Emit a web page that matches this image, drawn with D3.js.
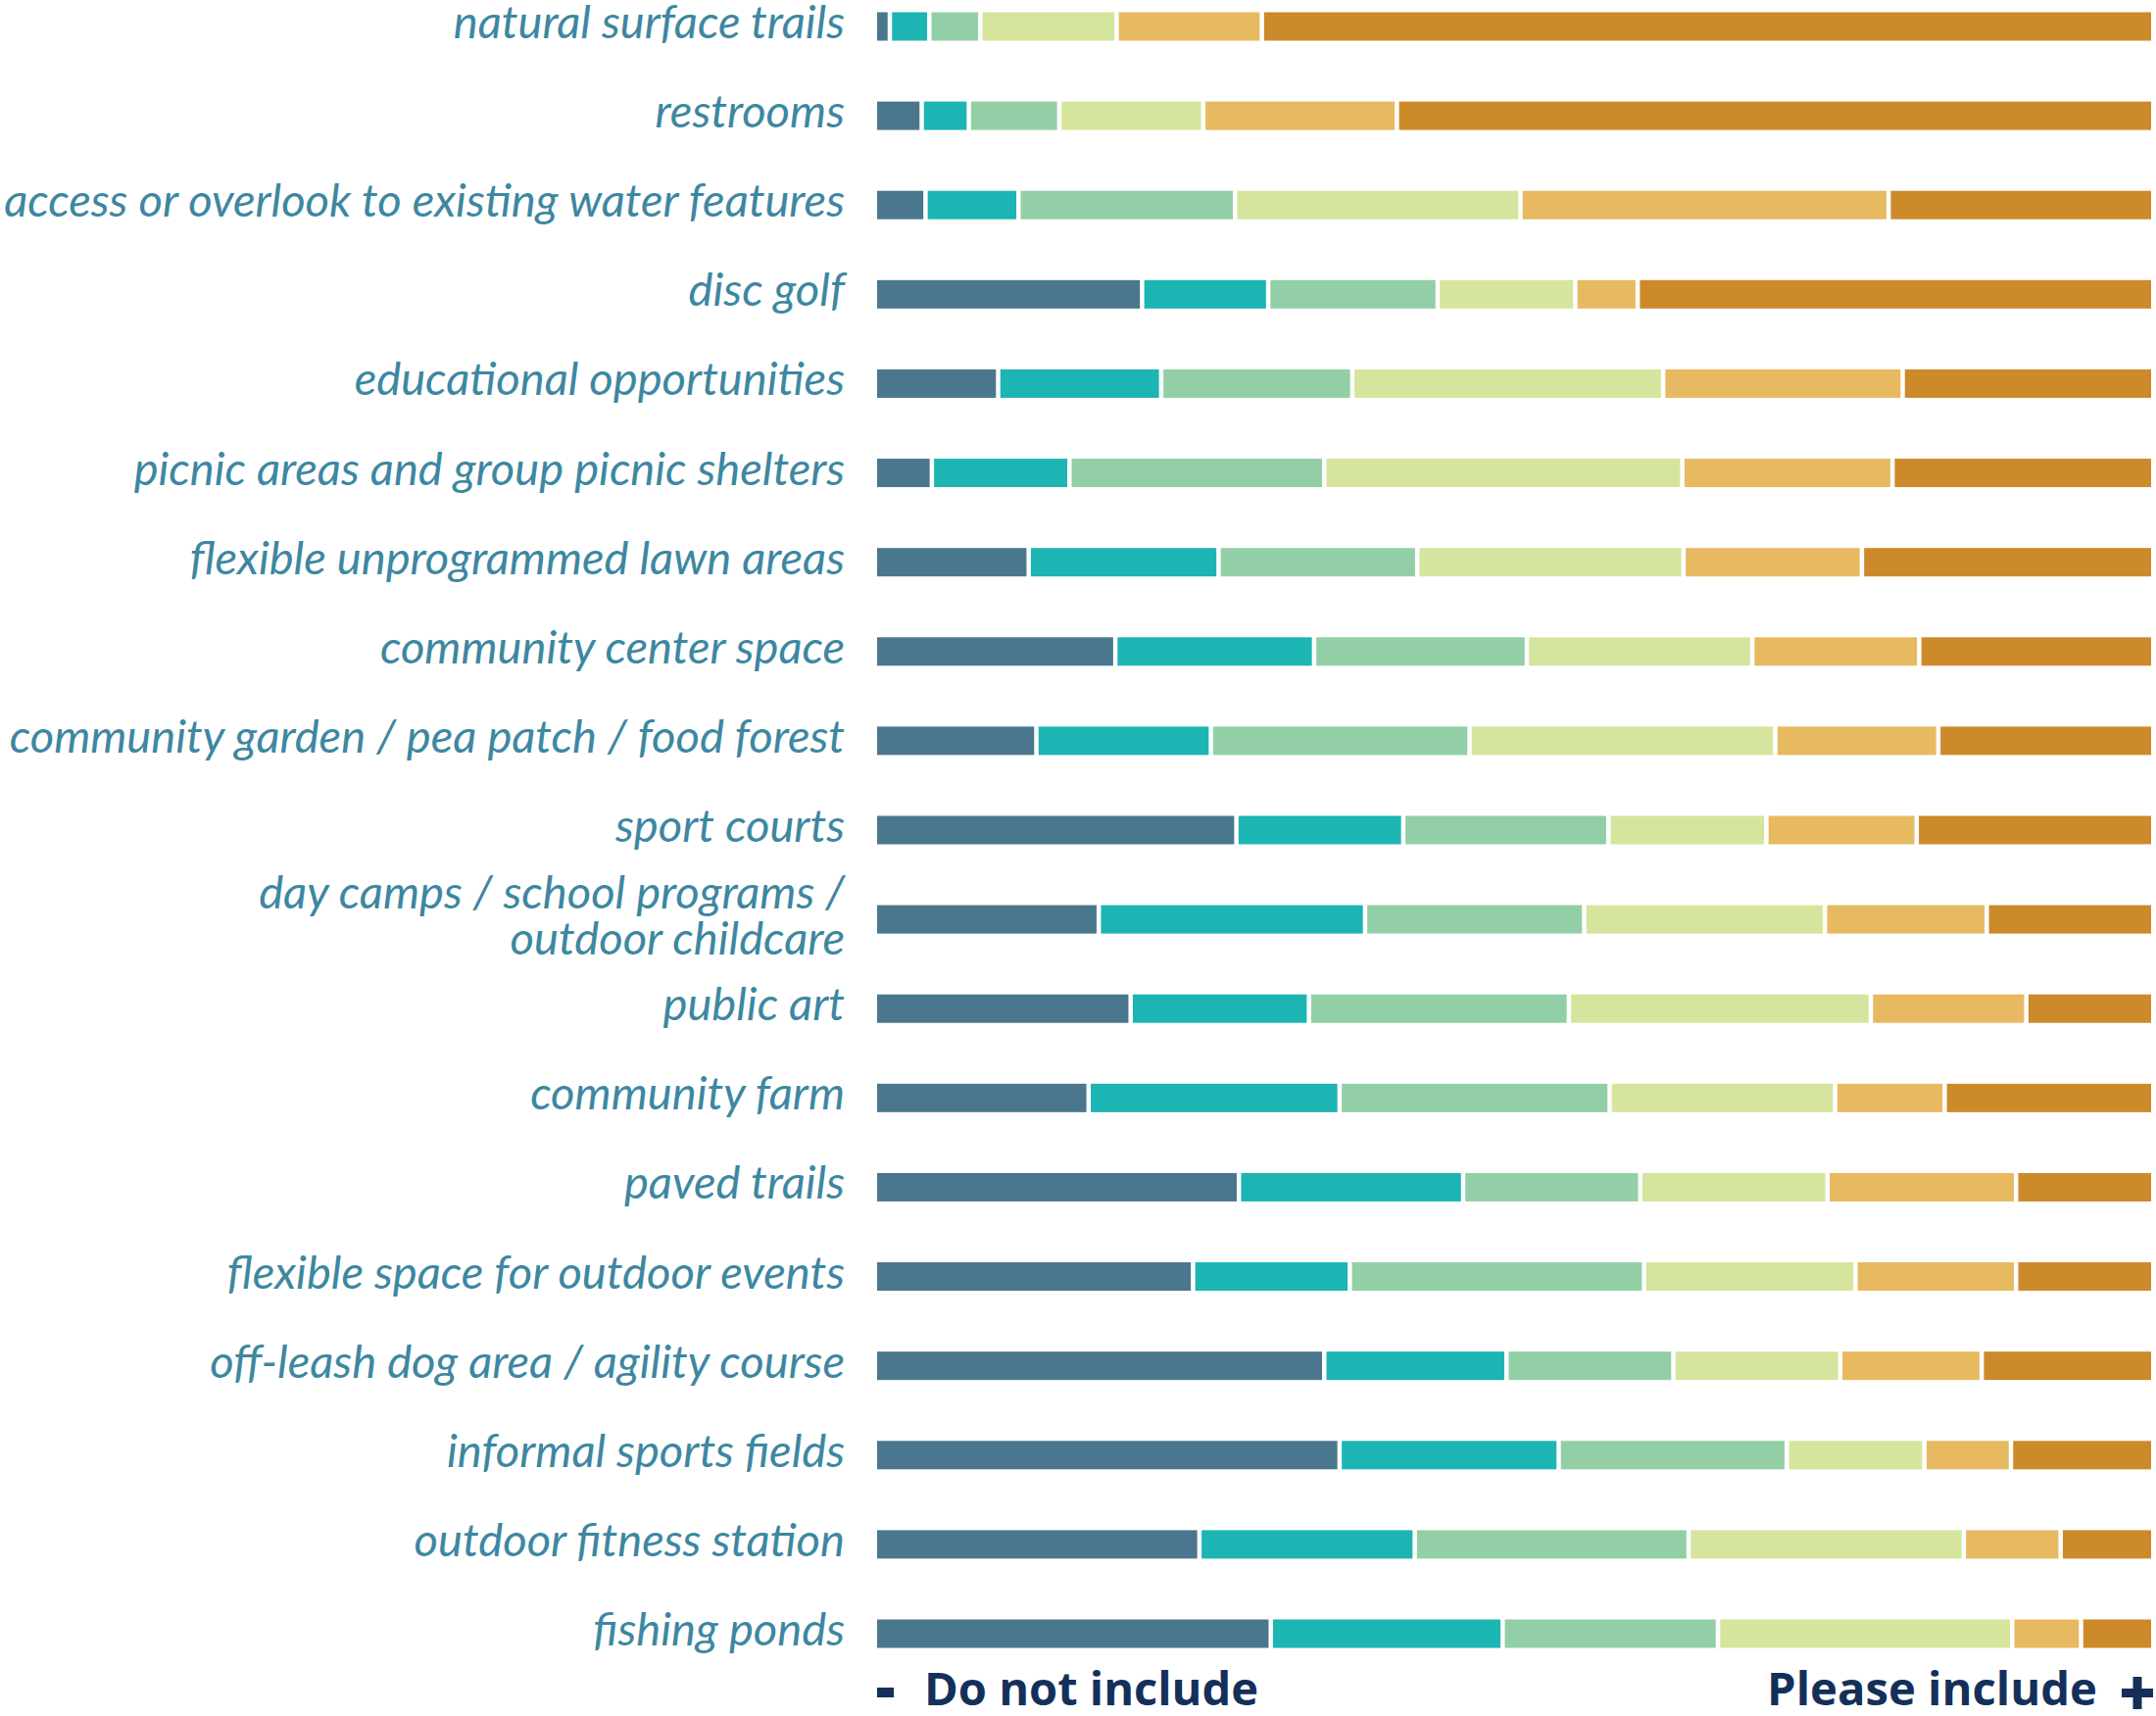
<!DOCTYPE html>
<html>
<head>
<meta charset="utf-8">
<script src="https://cdn.jsdelivr.net/npm/d3@7"></script>
<style>
  body { margin: 0; background: #fff; }
  .viz { width: 2200px; height: 1751px; }
</style>
</head>
<body>
<div class="viz"></div>
<script>
// rows, top to bottom
var categories = [
  "natural surface trails",
  "restrooms",
  "access or overlook to existing water features",
  "disc golf",
  "educational opportunities",
  "picnic areas and group picnic shelters",
  "flexible unprogrammed lawn areas",
  "community center space",
  "community garden / pea patch / food forest",
  "sport courts",
  "day camps / school programs / outdoor childcare",
  "public art",
  "community farm",
  "paved trails",
  "flexible space for outdoor events",
  "off-leash dog area / agility course",
  "informal sports fields",
  "outdoor fitness station",
  "fishing ponds"
];

// share of answers (%) on the scale from "do not include" (1) to "please include" (6)
var level1 = [1.0, 3.5, 3.8, 20.8, 9.5, 4.3, 11.9, 18.7, 12.5, 28.2, 17.4, 19.9, 16.6, 28.4, 24.8, 35.1, 36.3, 25.3, 30.9];
var level2 = [3.1, 3.7, 7.3, 9.9, 12.8, 10.8, 14.9, 15.6, 13.7, 13.1, 20.9, 14.0, 19.7, 17.6, 12.3, 14.3, 17.2, 16.9, 18.2];
var level3 = [4.0, 7.1, 17.0, 13.3, 15.0, 20.0, 15.6, 16.7, 20.3, 16.1, 17.2, 20.4, 21.2, 13.9, 23.1, 13.1, 17.9, 21.5, 16.9];
var level4 = [10.7, 11.3, 22.4, 10.8, 24.4, 28.1, 20.9, 17.7, 24.0, 12.4, 18.9, 23.7, 17.7, 14.7, 16.6, 13.1, 10.8, 21.6, 23.1];
var level5 = [11.4, 15.2, 28.9, 4.9, 18.8, 16.5, 14.0, 13.1, 12.8, 11.8, 12.7, 12.2, 8.6, 14.8, 12.6, 11.1, 6.8, 7.6, 5.4];
var level6 = [69.8, 59.2, 20.6, 40.3, 19.5, 20.3, 22.7, 18.2, 16.7, 18.4, 12.9, 9.8, 16.2, 10.6, 10.6, 13.3, 11.0, 7.1, 5.5];

var levels = ["level1", "level2", "level3", "level4", "level5", "level6"];
var colors = ["#4a778d", "#1db4b4", "#93cfa6", "#d5e59d", "#e7b961", "#cd8a2b"];

var wrapped = {
  "day camps / school programs / outdoor childcare": ["day camps / school programs /", "outdoor childcare"]
};

var table = categories.map(function(c, i) {
  return {cat: c, level1: level1[i], level2: level2[i], level3: level3[i],
          level4: level4[i], level5: level5[i], level6: level6[i]};
});

var svg = d3.select(".viz").append("svg")
  .attr("width", 2200)
  .attr("height", 1751);

var x = d3.scaleLinear().domain([0, 1]).range([895, 2195]);
var y = d3.scalePoint().domain(categories).range([27, 1667]);
var color = d3.scaleOrdinal().domain(levels).range(colors);

var barH = 29, gap = 4.5;

var series = d3.stack().keys(levels).offset(d3.stackOffsetExpand)(table);

svg.append("g").selectAll("g")
  .data(series)
  .join("g")
    .attr("fill", function(s) { return color(s.key); })
  .selectAll("rect")
  .data(function(s) { return s; })
  .join("rect")
    .attr("x", function(d) { return x(d[0]) + (d[0] > 0 ? gap / 2 : 0); })
    .attr("y", function(d) { return y(d.data.cat) - barH / 2; })
    .attr("width", function(d) {
      var a = x(d[0]) + (d[0] > 0 ? gap / 2 : 0);
      var b = x(d[1]) - (d[1] < 0.9999 ? gap / 2 : 0);
      return Math.max(0, b - a);
    })
    .attr("height", barH);

// labels
var labels = svg.append("g")
  .attr("font-family", "Lato, 'Open Sans', sans-serif")
  .attr("font-style", "italic")
  .attr("fill", "#3d87a1")
  .attr("text-anchor", "end");

var fs = 40;
labels.selectAll("text")
  .data(categories)
  .join("text")
    .attr("x", 862)
    .attr("font-size", fs)
    .each(function(c) {
      var t = d3.select(this);
      var lines = wrapped[c] || [c];
      lines.forEach(function(l, k) {
        t.append("tspan")
          .attr("x", 862)
          .attr("y", y(c) + 12 + (k - (lines.length - 1) / 2) * 47)
          .text(l);
      });
    });

// fit longest label to the width seen in the chart
var longest = 0;
labels.selectAll("tspan").each(function() {
  longest = Math.max(longest, this.getComputedTextLength());
});
labels.selectAll("text").attr("font-size", fs * 858 / longest);

// scale ends
var navy = "#14305a";
var ends = svg.append("g")
  .attr("font-family", "'Open Sans', sans-serif")
  .attr("font-weight", "bold")
  .attr("font-size", 46)
  .attr("fill", navy);

// minus sign
ends.append("rect")
  .attr("x", 895).attr("y", 1722)
  .attr("width", 17).attr("height", 10);
ends.append("text")
  .attr("x", 943).attr("y", 1740)
  .attr("textLength", 341).attr("lengthAdjust", "spacingAndGlyphs")
  .text("Do not include");
ends.append("text")
  .attr("x", 1803).attr("y", 1740)
  .attr("textLength", 337).attr("lengthAdjust", "spacingAndGlyphs")
  .text("Please include");
// plus sign
ends.append("rect")
  .attr("x", 2165).attr("y", 1723)
  .attr("width", 32).attr("height", 9);
ends.append("rect")
  .attr("x", 2176.5).attr("y", 1711)
  .attr("width", 9).attr("height", 33);
</script>
</body>
</html>
